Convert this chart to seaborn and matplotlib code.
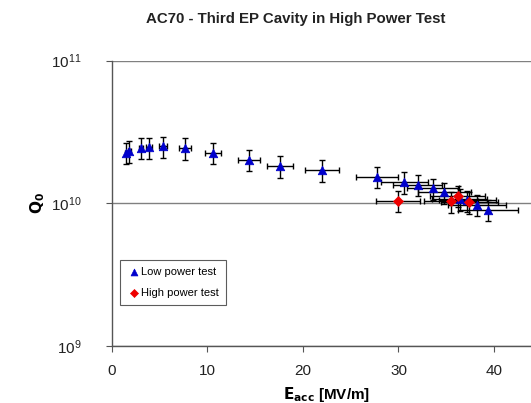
import numpy as np
import pandas as pd
import matplotlib
matplotlib.use("Agg")
import matplotlib.pyplot as plt
import seaborn as sns

# Low power test data
low_E = [1.5, 1.85, 3.05, 3.9, 5.4, 7.7, 10.6, 14.4, 17.6, 22.0, 27.8, 30.6, 32.0, 33.6, 34.8, 36.4, 37.2, 38.2, 39.4]
low_Q = [2.26e10, 2.32e10, 2.45e10, 2.46e10, 2.5e10, 2.43e10, 2.26e10, 2.02e10, 1.82e10, 1.71e10,
         1.53e10, 1.41e10, 1.35e10, 1.27e10, 1.19e10, 1.07e10, 1.05e10, 0.98e10, 0.90e10]
low_Eerr = [0.12, 0.15, 0.24, 0.31, 0.43, 0.62, 0.85, 1.15, 1.4, 1.76, 2.2, 2.45, 2.55, 2.7, 2.8, 2.9, 3.0, 3.05, 3.15]

# High power test data
high_E = [30.0, 35.5, 36.2, 37.4]
high_Q = [1.04e10, 1.03e10, 1.13e10, 1.02e10]
high_Eerr = [2.3, 2.8, 2.9, 3.0]

Q_rel_err = 0.17

plt.rcParams['font.family'] = ['Liberation Sans', 'DejaVu Sans']

fig = plt.figure(figsize=(5.31, 4.03), dpi=100)
ax = fig.add_axes([0.2104, 0.1414, 0.81, 0.7084])

df_low = pd.DataFrame({"E": low_E, "Q": low_Q, "test": "Low power test"})
df_high = pd.DataFrame({"E": high_E, "Q": high_Q, "test": "High power test"})

for E, Q, Eerr in [(low_E, low_Q, low_Eerr), (high_E, high_Q, high_Eerr)]:
    Qa = np.array(Q)
    ax.errorbar(E, Q, xerr=Eerr, yerr=Qa * Q_rel_err, fmt='none', ecolor='black',
                elinewidth=1.0, capsize=2.2, capthick=1.0, zorder=2)

sns.scatterplot(data=df_low, x="E", y="Q", marker='^', color='#0000cc', s=38,
                edgecolor='#0000cc', linewidth=0.5, ax=ax, zorder=3, label="Low power test")
sns.scatterplot(data=df_high, x="E", y="Q", marker='D', color='#ee0000', s=26,
                edgecolor='#ee0000', linewidth=0.5, ax=ax, zorder=4, label="High power test")

ax.set_yscale('log')
ax.set_ylim(1e9, 1e11)
ax.set_xlim(0, 45)
ax.set_xticks([0, 10, 20, 30, 40])
ax.set_yticks([1e9, 1e10, 1e11])
ax.yaxis.set_minor_locator(matplotlib.ticker.NullLocator())
ax.set_yticklabels([r'$\mathregular{10^{9}}$', r'$\mathregular{10^{10}}$', r'$\mathregular{10^{11}}$'])

ax.grid(axis='y', which='major', color='#808080', linewidth=1.0)
ax.set_axisbelow(True)
for s in ['top', 'right']:
    ax.spines[s].set_visible(False)
for s in ['left', 'bottom']:
    ax.spines[s].set_color('#555555')
    ax.spines[s].set_linewidth(1.0)
ax.tick_params(axis='both', which='major', length=4, width=0.8, color='#555555',
               labelsize=11, labelcolor='#222222')
ax.tick_params(axis='x', pad=9)
ax.tick_params(axis='y', pad=18)

ax.set_xlabel(r'$\mathbf{E_{acc}}$ [MV/m]', fontsize=11, fontweight='bold', labelpad=5)
ax.set_ylabel(r'$\mathbf{Q_0}$', fontsize=11, fontweight='bold')
ax.yaxis.set_label_coords(-0.150, 0.5)
fig.text(0.557, 0.952, 'AC70 - Third EP Cavity in High Power Test', ha='center', va='center',
         fontsize=10.8, fontweight='bold', color='#222222')

leg = ax.legend(loc='upper left', bbox_to_anchor=(0.007, 0.32), frameon=True, fancybox=False,
                edgecolor='#333333', fontsize=8, handletextpad=0.1, markerscale=0.8,
                borderpad=0.6, labelspacing=1.0, handlelength=1.2)
leg.get_frame().set_linewidth(0.8)

fig.savefig('out.png', dpi=100)
